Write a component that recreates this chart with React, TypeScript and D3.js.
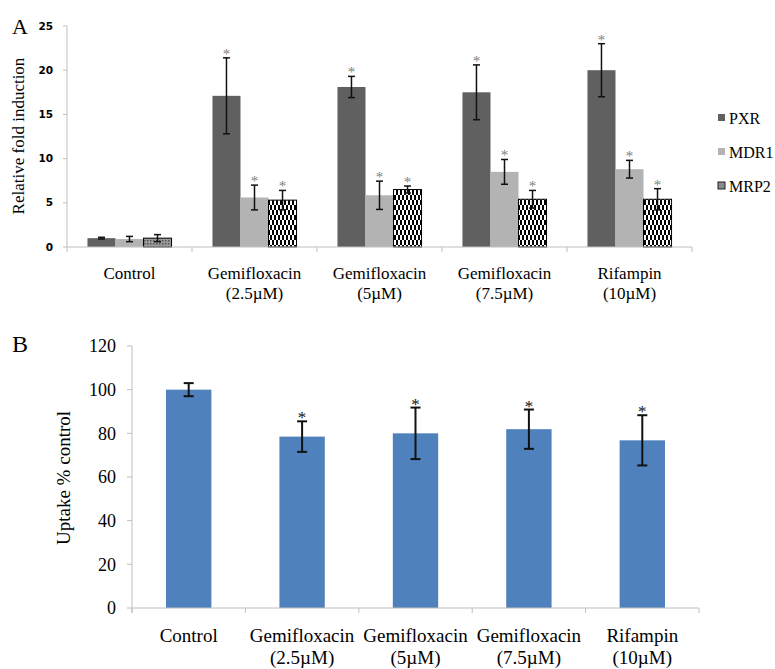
import React from "react";
import * as d3 from "d3";

// ---- data ----
const catLine1 = ["Control", "Gemifloxacin", "Gemifloxacin", "Gemifloxacin", "Rifampin"];
const catLine2 = ["", "(2.5µM)", "(5µM)", "(7.5µM)", "(10µM)"];
const categories = catLine1.map((d, i) => `${d} ${catLine2[i]}`);

const series = ["PXR", "MDR1", "MRP2"];
const pxr = [1.0, 17.1, 18.1, 17.5, 20.0];
const pxrErr = [0.1, 4.3, 1.2, 3.1, 3.0];
const mdr1 = [0.9, 5.6, 5.85, 8.5, 8.8];
const mdr1Err = [0.3, 1.4, 1.6, 1.4, 1.0];
const mrp2 = [1.0, 5.3, 6.5, 5.4, 5.4];
const mrp2Err = [0.4, 1.1, 0.4, 1.0, 1.2];
const signifA = [false, true, true, true, true];
const ticksA = [0, 5, 10, 15, 20, 25];

const uptake = [100, 78.5, 80, 81.9, 76.8];
const uptakeErr = [3, 7, 11.8, 9, 11.5];
const signifB = [false, true, true, true, true];
const ticksB = [0, 20, 40, 60, 80, 100, 120];

const W = 775;
const H = 669;
const serif = "'Liberation Serif', 'Times New Roman', serif";
const sans = "'DejaVu Sans', Verdana, sans-serif";
const axisGray = "#bfbfbf";
const fills: Record<string, string> = { PXR: "#606060", MDR1: "#b3b3b3", MRP2: "url(#checker)" };

export default function App() {
  // panel A scales
  const xA = d3.scaleBand<string>().domain(categories).range([67, 692]);
  const xInner = d3.scaleBand<string>().domain(series).range([0, xA.bandwidth()]).paddingOuter(0.73);
  const yA = d3.scaleLinear().domain([0, 25]).range([247, 26]);

  const barsA = categories.flatMap((c, i) => [
    { c, s: "PXR", v: pxr[i], e: pxrErr[i], sig: signifA[i], ctrl: i === 0 },
    { c, s: "MDR1", v: mdr1[i], e: mdr1Err[i], sig: signifA[i], ctrl: i === 0 },
    { c, s: "MRP2", v: mrp2[i], e: mrp2Err[i], sig: signifA[i], ctrl: i === 0 },
  ]);

  // panel B scales
  const xBcat = d3.scaleBand<string>().domain(categories).range([132, 699]);
  const xB = d3.scaleBand<string>().domain(categories).range([132, 699]).paddingInner(0.6).paddingOuter(0.3);
  const yB = d3.scaleLinear().domain([0, 120]).range([608, 346]);

  const boundsA = [...categories.map((c) => xA(c)!), xA.range()[1]];
  const boundsB = [...categories.map((c) => xBcat(c)!), xBcat.range()[1]];

  return (
    <svg width={W} height={H} style={{ position: "absolute", left: 0, top: 0, background: "#fff" }}>
      <defs>
        <pattern id="checker" width={4} height={10} patternUnits="userSpaceOnUse">
          <rect width={4} height={10} fill="#fff" />
          <rect x={0} y={0} width={2} height={5} fill="#000" />
          <rect x={2} y={5} width={2} height={5} fill="#000" />
        </pattern>
        <pattern id="hatch" width={3} height={3} patternUnits="userSpaceOnUse">
          <rect width={3} height={3} fill="#9a9a9a" />
          <rect width={1.5} height={1.5} fill="#555" />
        </pattern>
      </defs>

      {/* ---------- Panel A ---------- */}
      <text x={12} y={34} fontFamily={serif} fontSize={22}>A</text>
      {ticksA.map((t) => (
        <g key={t}>
          <line x1={63} x2={67} y1={yA(t)} y2={yA(t)} stroke={axisGray} />
          <text x={53} y={yA(t)} dy="0.35em" textAnchor="end" fontFamily={sans} fontWeight="bold" fontSize={10.5}>{t}</text>
        </g>
      ))}
      <line x1={67} x2={67} y1={yA(25)} y2={yA(0)} stroke={axisGray} />
      <text transform={`translate(24,136) rotate(-90)`} textAnchor="middle" fontFamily={serif} fontSize={17}>
        Relative fold induction
      </text>

      {barsA.map((b, i) => {
        const x0 = xA(b.c)! + xInner(b.s)!;
        const w = xInner.bandwidth();
        const cx = x0 + w / 2;
        const fill = b.s === "MRP2" && b.ctrl ? "url(#hatch)" : fills[b.s];
        return (
          <g key={i}>
            <rect x={x0} y={yA(b.v)} width={w} height={yA(0) - yA(b.v)} fill={fill}
              stroke={b.s === "MRP2" ? "#000" : "none"} strokeWidth={1} />
            <g stroke="#111" strokeWidth={1.5}>
              <line x1={cx} x2={cx} y1={yA(b.v + b.e)} y2={yA(b.v - b.e)} />
              <line x1={cx - 3.5} x2={cx + 3.5} y1={yA(b.v + b.e)} y2={yA(b.v + b.e)} />
              <line x1={cx - 3.5} x2={cx + 3.5} y1={yA(b.v - b.e)} y2={yA(b.v - b.e)} />
            </g>
            {b.sig && (
              <text x={cx} y={yA(b.v + b.e) + 1} textAnchor="middle" fontFamily={serif} fontSize={15} fill="#808080">*</text>
            )}
          </g>
        );
      })}

      <line x1={67} x2={692} y1={yA(0)} y2={yA(0)} stroke={axisGray} />
      {boundsA.map((x, i) => (
        <line key={i} x1={x} x2={x} y1={yA(0)} y2={yA(0) + 5} stroke={axisGray} />
      ))}
      {categories.map((c, i) => (
        <text key={c} x={xA(c)! + xA.bandwidth() / 2} textAnchor="middle" fontFamily={serif} fontSize={17}>
          <tspan x={xA(c)! + xA.bandwidth() / 2} y={279}>{catLine1[i]}</tspan>
          {catLine2[i] && <tspan x={xA(c)! + xA.bandwidth() / 2} y={299}>{catLine2[i]}</tspan>}
        </text>
      ))}

      {/* legend */}
      {series.map((s, i) => (
        <g key={s} transform={`translate(718,${118 + i * 34})`}>
          <rect x={0} y={-4} width={7} height={7}
            fill={s === "MRP2" ? "#8a8a8a" : fills[s]} stroke={s === "MRP2" ? "#222" : "none"} />
          <text x={11} y={0} dy="0.35em" fontFamily={serif} fontSize={16}>{s}</text>
        </g>
      ))}

      {/* ---------- Panel B ---------- */}
      <text x={12} y={352} fontFamily={serif} fontSize={24}>B</text>
      {ticksB.map((t) => (
        <g key={t}>
          <line x1={127} x2={132} y1={yB(t)} y2={yB(t)} stroke={axisGray} />
          <text x={116} y={yB(t)} dy="0.35em" textAnchor="end" fontFamily={serif} fontSize={18}>{t}</text>
        </g>
      ))}
      <line x1={132} x2={132} y1={yB(120)} y2={yB(0) + 5} stroke={axisGray} />
      <text transform={`translate(70,478) rotate(-90)`} textAnchor="middle" fontFamily={serif} fontSize={19}>
        Uptake % control
      </text>

      {categories.map((c, i) => {
        const x0 = xB(c)!;
        const w = xB.bandwidth();
        const cx = x0 + w / 2;
        const top = yB(uptake[i] + uptakeErr[i]);
        const bot = yB(uptake[i] - uptakeErr[i]);
        return (
          <g key={c}>
            <rect x={x0} y={yB(uptake[i])} width={w} height={yB(0) - yB(uptake[i])} fill="#4f81bd" />
            <g stroke="#111" strokeWidth={2}>
              <line x1={cx} x2={cx} y1={top} y2={bot} />
              <line x1={cx - 5} x2={cx + 5} y1={top} y2={top} />
              <line x1={cx - 5} x2={cx + 5} y1={bot} y2={bot} />
            </g>
            {signifB[i] && (
              <text x={cx} y={top + 2} textAnchor="middle" fontFamily={serif} fontSize={17} fill="#111">*</text>
            )}
          </g>
        );
      })}

      <line x1={132} x2={699} y1={yB(0)} y2={yB(0)} stroke={axisGray} />
      {boundsB.map((x, i) => (
        <line key={i} x1={x} x2={x} y1={yB(0)} y2={yB(0) + 5} stroke={axisGray} />
      ))}
      {categories.map((c, i) => {
        const cx = xBcat(c)! + xBcat.bandwidth() / 2;
        return (
          <text key={c} textAnchor="middle" fontFamily={serif} fontSize={19}>
            <tspan x={cx} y={642}>{catLine1[i]}</tspan>
            {catLine2[i] && <tspan x={cx} y={664}>{catLine2[i]}</tspan>}
          </text>
        );
      })}
    </svg>
  );
}
